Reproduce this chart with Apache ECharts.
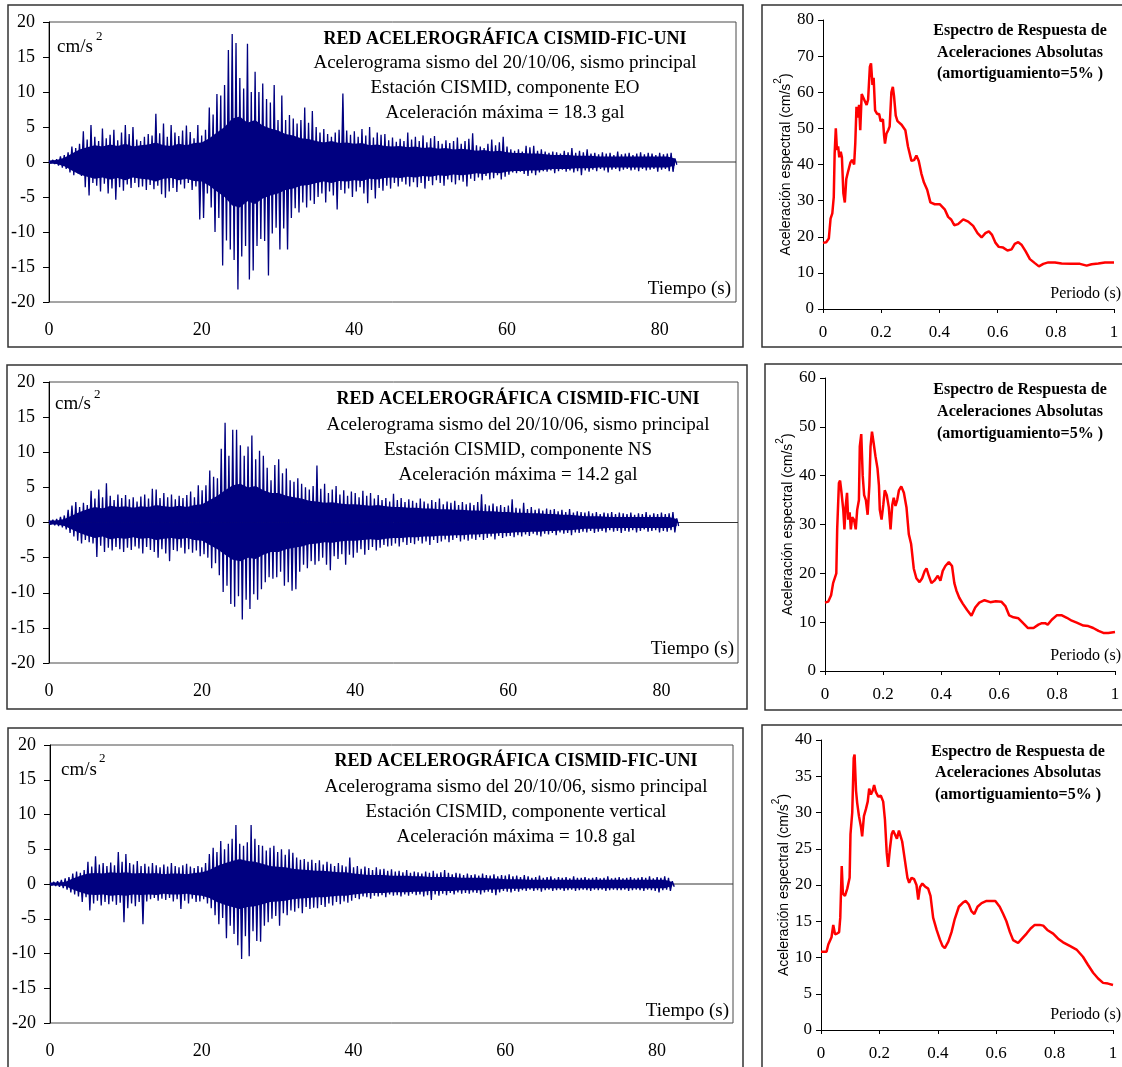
<!DOCTYPE html>
<html><head><meta charset="utf-8">
<script src="https://cdn.jsdelivr.net/npm/echarts/dist/echarts.min.js"></script>
<style>html,body{margin:0;padding:0;background:#fff}#c{width:1122px;height:1067px}</style>
</head><body><div id="c"></div>
<script>
// ---------------- DATA ----------------
// Accelerograms: peak (up) and trough (dn) read every 0.5 s from t = 0 to 82 s
const ACC_STEP = 0.5;
const EO_up = [0.2,0.3,0.4,0.8,1.0,1.4,2.2,2.0,2.6,4.4, 3.2,5.3,3.6,3.0,4.8,3.4,3.9,4.6,3.1,4.2,
 5.3,4.0,5.0,3.2,3.0,3.6,4.0,3.8,6.9,4.1, 5.5,3.6,5.3,4.2,3.7,4.5,5.2,4.3,3.4,5.3,
 3.8,4.6,7.8,6.8,9.7,9.5,11.0,16.0,18.3,17.0, 12.0,10.5,16.9,10.0,12.9,10.0,11.2,9.0,8.5,11.0,
 6.0,9.5,6.0,6.7,6.2,5.5,6.0,7.8,5.6,7.3, 5.0,4.2,4.7,4.0,3.6,4.2,4.6,9.8,4.5,3.9,
 4.4,3.6,4.7,3.8,5.0,3.5,4.2,3.9,4.0,3.1, 3.5,2.9,3.3,3.0,4.2,3.2,3.6,3.0,3.8,2.8,
 3.4,3.7,3.0,2.6,3.1,2.7,3.0,3.5,2.6,3.0, 3.3,4.1,2.4,2.2,2.0,2.6,3.2,2.4,2.8,3.6,
 2.2,1.8,1.6,1.8,1.5,2.3,2.1,2.3,1.6,1.8, 1.5,1.3,1.5,1.4,1.2,1.6,1.4,2.0,1.3,1.6,
 1.4,1.8,1.2,1.3,1.1,1.4,1.2,1.3,1.0,1.5, 1.1,1.2,1.3,1.0,1.2,1.4,1.1,1.3,1.2,1.0,
 1.3,1.1,1.2,1.3,0.5];
const EO_dn = [-0.2,-0.3,-0.5,-0.8,-1.0,-1.5,-1.9,-1.6,-2.0,-3.6, -4.8,-3.0,-3.4,-4.2,-3.1,-4.5,-3.8,-5.4,-3.6,-4.1,
 -3.2,-3.7,-3.0,-3.6,-3.5,-4.0,-3.3,-3.9,-3.4,-4.6, -5.1,-4.2,-3.7,-4.3,-3.2,-3.8,-3.0,-4.0,-3.5,-8.2,
 -8.0,-4.5,-6.5,-10.0,-8.0,-14.8,-11.2,-12.5,-14.0,-18.2, -13.5,-12.0,-16.8,-15.5,-12.0,-11.0,-11.3,-16.2,-10.2,-9.4,
 -12.5,-9.5,-12.5,-8.0,-6.6,-7.2,-5.8,-6.5,-5.5,-6.0, -5.0,-4.5,-5.8,-4.2,-4.8,-6.8,-4.0,-4.5,-3.8,-5.0,
 -4.2,-3.6,-4.5,-5.9,-4.0,-5.2,-3.7,-4.1,-3.4,-3.8, -3.0,-3.5,-2.8,-3.2,-3.5,-2.9,-3.6,-3.0,-3.8,-2.7,
 -3.3,-2.6,-3.0,-3.4,-2.5,-2.9,-3.2,-2.6,-2.8,-3.5, -2.4,-2.7,-2.2,-2.6,-2.0,-2.5,-2.3,-1.9,-2.5,-2.1,
 -1.8,-1.5,-1.6,-1.4,-1.7,-2.0,-1.6,-1.9,-1.5,-1.3, -1.4,-1.2,-1.6,-1.3,-1.1,-1.4,-1.2,-1.5,-1.3,-1.9,
 -1.2,-1.4,-1.1,-1.3,-1.0,-1.2,-1.5,-1.1,-1.0,-1.3, -1.1,-1.0,-1.2,-1.1,-1.3,-1.0,-1.2,-1.1,-1.0,-1.4,
 -1.1,-1.0,-1.3,-1.4,-0.4];
const NS_up = [0.3,0.4,0.5,0.8,1.0,1.8,2.4,2.9,2.2,2.8, 2.5,4.5,3.4,4.7,3.6,5.6,3.8,3.2,4.0,3.5,
 3.9,3.3,3.6,3.0,3.7,4.0,3.4,4.8,4.7,3.5, 4.2,3.6,4.0,3.3,3.8,3.5,3.9,4.4,3.6,5.3,
 4.6,5.3,7.4,6.5,6.3,10.5,14.2,9.5,13.2,13.2, 11.0,9.5,10.8,12.4,9.0,10.2,9.5,7.8,6.0,8.2,
 9.0,7.0,7.7,6.0,5.8,6.3,5.5,5.0,4.7,5.2, 8.1,4.8,5.5,4.2,4.7,5.2,4.0,4.6,3.8,4.4,
 4.2,3.6,4.5,3.8,4.2,3.4,3.9,3.2,3.5,3.0, 4.1,3.2,3.5,2.9,3.3,3.1,2.8,3.4,3.0,2.7,
 3.2,2.9,3.4,2.6,3.0,2.8,3.1,2.5,2.9,2.6, 2.8,2.5,2.9,4.0,2.6,2.4,2.7,2.3,2.5,2.2,
 2.4,3.3,2.1,2.0,2.8,1.9,2.2,1.8,2.0,1.7, 2.0,1.8,1.9,1.6,1.8,1.5,1.9,1.4,1.6,1.5,
 1.4,1.6,1.3,1.5,1.2,1.4,1.3,1.5,1.2,1.4, 1.3,1.2,1.4,1.1,1.3,1.2,1.5,1.1,1.3,1.2,
 1.4,1.2,1.3,1.5,0.6];
const NS_dn = [-0.3,-0.4,-0.5,-0.7,-1.0,-1.5,-2.0,-2.6,-3.0,-2.5, -2.8,-3.0,-4.9,-3.3,-4.2,-3.6,-4.0,-3.5,-3.8,-4.2,
 -3.6,-3.9,-3.4,-3.7,-4.4,-3.5,-3.9,-4.2,-5.0,-3.8, -4.4,-5.5,-3.9,-4.1,-3.6,-4.4,-3.8,-4.3,-4.0,-4.8,
 -4.5,-5.0,-6.5,-5.8,-7.5,-9.9,-9.0,-11.6,-12.0,-10.5, -13.8,-11.0,-12.3,-10.2,-11.0,-9.5,-8.5,-7.8,-8.0,-7.8,
 -7.0,-9.0,-8.5,-9.7,-9.5,-7.0,-6.0,-6.5,-5.5,-6.0, -5.5,-5.0,-6.0,-6.8,-4.8,-5.2,-4.5,-6.0,-4.6,-5.0,
 -4.3,-3.8,-4.6,-3.9,-3.5,-4.0,-3.6,-3.2,-3.4,-3.3, -3.0,-3.4,-2.8,-3.2,-2.9,-3.1,-2.6,-3.0,-2.7,-3.2,
 -2.5,-2.9,-2.7,-2.4,-2.8,-2.5,-2.2,-2.7,-2.4,-2.6, -2.3,-2.5,-2.1,-2.5,-2.2,-2.0,-2.4,-1.9,-2.2,-2.0,
 -1.9,-2.1,-1.8,-2.0,-1.7,-1.9,-1.6,-1.8,-2.0,-1.6, -1.7,-1.5,-1.8,-1.4,-1.6,-1.5,-1.8,-1.4,-1.5,-1.3,
 -1.4,-1.2,-1.5,-1.3,-1.2,-1.4,-1.1,-1.3,-1.2,-1.5, -1.2,-1.3,-1.1,-1.4,-1.2,-1.0,-1.3,-1.2,-1.1,-1.4,
 -1.2,-1.3,-1.1,-1.4,-0.5];
const VT_up = [0.2,0.3,0.4,0.6,0.8,1.0,1.5,1.8,1.6,2.0, 3.2,2.5,4.0,2.8,3.0,2.6,3.1,2.7,4.6,3.2,
 4.3,3.0,2.8,3.3,2.6,2.9,2.5,3.0,2.7,2.4, 2.8,2.5,3.0,2.6,2.4,2.7,2.9,2.5,2.3,2.6,
 2.4,3.0,4.3,5.2,4.6,6.2,5.0,5.8,6.5,8.5, 5.8,5.5,6.0,8.5,6.5,5.6,5.5,4.8,5.2,5.5,
 4.6,5.0,4.2,5.0,4.5,3.8,3.5,3.6,3.2,3.5, 3.0,3.4,2.8,3.2,2.9,2.6,3.0,2.7,2.5,3.8,
 2.4,2.6,2.2,2.5,2.3,2.0,2.4,2.1,2.2,1.9, 2.1,1.8,1.9,1.7,2.0,1.6,1.8,1.7,1.5,1.8,
 1.6,1.9,1.5,1.7,2.0,1.6,1.4,1.6,1.5,1.3, 1.5,1.3,1.4,1.2,1.5,1.3,1.2,1.4,1.1,1.3,
 1.2,1.4,1.1,1.2,1.0,1.3,1.1,0.9,1.0,1.2, 0.9,1.0,1.1,0.8,1.0,0.9,1.0,0.8,1.1,0.9,
 0.9,1.0,0.8,0.9,1.0,0.8,0.9,1.1,0.8,0.9, 1.0,0.8,0.9,1.0,0.8,0.9,1.0,0.9,1.1,0.8,
 1.0,0.9,1.1,0.9,0.4];
const VT_dn = [-0.2,-0.3,-0.4,-0.6,-0.8,-1.2,-1.5,-1.8,-2.6,-1.9, -3.8,-2.8,-2.4,-3.1,-2.6,-2.9,-2.5,-3.0,-2.7,-5.5,
 -3.5,-2.8,-3.2,-2.6,-5.8,-2.5,-2.2,-2.0,-2.4,-2.1, -2.3,-2.0,-2.5,-2.2,-3.6,-2.4,-2.8,-2.1,-2.6,-2.5,
 -2.2,-2.8,-3.5,-4.5,-5.8,-4.9,-7.8,-6.0,-7.2,-8.8, -10.8,-7.5,-10.4,-6.8,-8.2,-8.3,-6.0,-5.5,-5.0,-4.6,
 -6.0,-4.2,-4.5,-3.8,-4.0,-3.5,-4.2,-3.3,-3.6,-3.4, -3.5,-3.0,-3.3,-2.8,-3.1,-2.6,-2.9,-2.5,-2.7,-2.4,
 -2.0,-2.2,-1.8,-1.9,-2.1,-1.7,-1.8,-1.6,-1.9,-1.5, -1.7,-1.6,-1.8,-1.5,-1.7,-1.4,-1.6,-1.5,-1.8,-1.6,
 -2.3,-1.5,-1.7,-1.4,-1.6,-1.3,-1.5,-1.2,-1.4,-1.3, -1.4,-1.2,-1.3,-1.5,-1.2,-1.1,-1.3,-1.6,-1.2,-1.0,
 -1.1,-1.2,-1.0,-1.1,-0.9,-1.0,-0.8,-1.0,-0.9,-1.1, -0.9,-0.8,-1.0,-0.9,-0.8,-1.0,-0.9,-0.8,-1.0,-0.9,
 -0.8,-0.9,-1.0,-0.8,-0.9,-0.8,-1.0,-0.9,-0.8,-0.9, -0.9,-0.8,-1.0,-0.9,-0.8,-0.9,-1.0,-0.8,-0.9,-1.0,
 -1.2,-0.9,-0.8,-1.0,-0.4];
// Half-width of the solid (dense) part of each trace, read every 1 s from t = 0 to 82 s
const CORE_STEP = 1;
const EO_core = [0.2,0.3,0.6,1.2,1.8,2.1,2.4,2.2,2.5,2.3, 2.6,2.2,2.4,2.5,2.8,2.4,2.3,2.6,2.4,2.7,
 2.8,3.4,4.2,5.0,6.2,6.5,5.6,6.0,5.2,4.8, 4.5,4.0,3.8,3.4,3.3,3.0,2.8,3.0,2.7,2.8,
 2.6,2.7,2.4,2.5,2.3,2.2,2.3,2.1,2.2,2.0, 2.1,1.9,2.0,1.8,1.9,1.8,1.6,1.7,1.5,1.6,
 1.4,1.3,1.3,1.2,1.2,1.1,1.0,1.0,1.0,0.9, 0.9,0.9,0.8,0.8,0.8,0.8,0.8,0.8,0.8,0.8, 0.8,0.8,0.5];
const NS_core = [0.3,0.3,0.5,1.0,1.5,1.9,2.2,2.0,2.4,2.2, 2.3,2.1,2.3,2.2,2.5,2.3,2.2,2.4,2.2,2.5,
 2.6,3.2,3.8,4.6,5.3,5.5,5.0,5.2,4.6,4.2, 4.2,3.8,3.6,3.4,3.1,3.0,2.8,2.9,2.7,2.6,
 2.6,2.5,2.4,2.5,2.3,2.2,2.2,2.1,2.1,2.0, 2.0,1.9,1.9,1.8,1.8,1.7,1.7,1.6,1.6,1.5,
 1.5,1.4,1.4,1.3,1.3,1.2,1.2,1.1,1.1,1.0, 0.9,0.9,0.9,0.8,0.8,0.8,0.8,0.8,0.8,0.8, 0.8,0.8,0.5];
const VT_core = [0.2,0.2,0.3,0.8,1.2,1.5,1.6,1.5,1.7,1.6, 1.7,1.5,1.6,1.5,1.6,1.4,1.5,1.5,1.4,1.6,
 1.7,2.0,2.6,3.0,3.3,3.6,3.3,3.2,2.9,2.6, 2.5,2.4,2.2,2.1,2.0,1.9,1.9,1.8,1.7,1.7,
 1.5,1.4,1.3,1.3,1.3,1.2,1.2,1.2,1.1,1.1, 1.0,1.0,1.0,1.0,0.9,0.9,0.9,0.9,0.8,0.8,
 0.7,0.7,0.7,0.6,0.6,0.6,0.6,0.6,0.6,0.6, 0.6,0.6,0.6,0.6,0.6,0.6,0.6,0.6,0.6,0.6, 0.6,0.6,0.3];

// Response spectra: [period (s), spectral acceleration (cm/s2)]
const EO_spectrum = [[0,18.3],[0.011,18.5],[0.02,19.5],[0.026,25],[0.032,26.5],[0.037,31],[0.04,43],[0.044,50],[0.048,44],[0.052,45],[0.056,42],[0.061,43.5],[0.065,42],[0.07,32],[0.075,29.5],[0.08,36],[0.086,38],[0.094,40.5],[0.1,41.3],[0.107,40],[0.111,46],[0.115,56],[0.119,53],[0.124,56.5],[0.128,49.5],[0.133,59.5],[0.139,60],[0.144,57.5],[0.15,56.5],[0.155,58],[0.161,67],[0.165,68],[0.17,62],[0.174,64],[0.179,55],[0.186,54],[0.193,54],[0.198,52],[0.206,52.5],[0.21,48],[0.213,45.8],[0.218,48.5],[0.224,49.5],[0.229,50.5],[0.235,60],[0.24,61.5],[0.244,59],[0.25,53.5],[0.256,52],[0.27,51],[0.283,49.5],[0.292,45],[0.304,41],[0.313,41.2],[0.321,42.5],[0.329,41],[0.338,37.5],[0.347,35],[0.358,33],[0.369,29.5],[0.384,29],[0.401,29],[0.419,27.5],[0.43,25.5],[0.441,24.7],[0.451,23.2],[0.464,23.5],[0.482,24.8],[0.499,24.2],[0.516,23],[0.531,21],[0.545,19.8],[0.558,21],[0.57,21.5],[0.581,20.5],[0.593,18.3],[0.604,17.2],[0.619,17],[0.634,16.2],[0.648,16.5],[0.659,18],[0.671,18.5],[0.682,17.8],[0.696,16],[0.711,13.8],[0.728,12.7],[0.742,11.8],[0.757,12.5],[0.774,12.9],[0.797,12.9],[0.82,12.6],[0.854,12.5],[0.883,12.5],[0.906,12.0],[0.923,12.4],[0.946,12.6],[0.969,12.9],[1.0,12.9]];
const NS_spectrum = [[0,14],[0.011,14.2],[0.021,15.5],[0.028,18],[0.034,18.2],[0.039,20],[0.042,29],[0.048,38.5],[0.052,39],[0.057,36.5],[0.063,33],[0.067,29],[0.071,33.5],[0.076,36.5],[0.08,31],[0.085,32.5],[0.089,29],[0.094,31.5],[0.1,31],[0.106,29],[0.111,33],[0.117,35],[0.12,46],[0.125,48.5],[0.13,40],[0.135,36],[0.141,35],[0.147,32],[0.153,38],[0.157,46],[0.162,49],[0.167,47],[0.174,44],[0.181,41.5],[0.186,38],[0.189,33],[0.195,31],[0.201,34],[0.206,37],[0.213,36],[0.22,33.5],[0.226,29],[0.232,34],[0.237,35.5],[0.243,33.8],[0.249,35],[0.255,37],[0.263,37.8],[0.272,36.5],[0.281,33.5],[0.289,28],[0.297,26],[0.306,21],[0.315,19],[0.326,18.2],[0.335,19],[0.344,20.5],[0.35,21],[0.358,19.5],[0.367,18],[0.377,18.5],[0.389,19.5],[0.398,18.5],[0.406,20.5],[0.415,21.5],[0.427,22.3],[0.438,21.5],[0.446,18],[0.453,16.5],[0.463,15],[0.475,13.8],[0.49,12.5],[0.505,11.3],[0.518,13],[0.532,14],[0.55,14.5],[0.57,14.1],[0.589,14.3],[0.608,14.2],[0.622,13.3],[0.635,11.4],[0.65,11],[0.667,10.8],[0.685,9.7],[0.7,8.8],[0.719,8.8],[0.736,9.5],[0.748,9.8],[0.759,9.8],[0.768,9.5],[0.782,10.5],[0.799,11.4],[0.817,11.4],[0.834,10.9],[0.851,10.3],[0.868,9.9],[0.891,9.3],[0.908,9.2],[0.925,8.8],[0.943,8.2],[0.96,7.8],[0.977,7.8],[1,8.0]];
const VT_spectrum = [[0,10.8],[0.019,10.8],[0.025,11.8],[0.031,11.8],[0.036,12.8],[0.042,14.5],[0.048,13.2],[0.055,13.3],[0.062,13.5],[0.066,15.5],[0.071,22.6],[0.075,18.8],[0.082,18.5],[0.09,19.5],[0.098,21],[0.101,27],[0.107,30],[0.112,37.5],[0.115,38],[0.12,33],[0.124,31.3],[0.13,29.5],[0.137,28],[0.141,26.7],[0.147,29.5],[0.154,30.5],[0.16,31.5],[0.165,33.3],[0.171,32.5],[0.177,33],[0.182,33.8],[0.188,32.8],[0.196,32.2],[0.205,32.3],[0.213,31.5],[0.219,29],[0.225,24.5],[0.23,22.5],[0.236,25],[0.242,27],[0.247,27.5],[0.253,27],[0.26,26.4],[0.267,27.5],[0.273,27.7],[0.278,26],[0.287,23.5],[0.296,21],[0.302,20.3],[0.31,21],[0.319,20.8],[0.327,20],[0.333,18],[0.339,19.7],[0.347,20.2],[0.356,19.8],[0.367,19.5],[0.375,18.5],[0.384,15.5],[0.396,13.8],[0.407,12.5],[0.416,11.6],[0.424,11.3],[0.436,12.2],[0.447,13.5],[0.458,15.3],[0.472,17],[0.487,17.6],[0.496,17.8],[0.506,17.3],[0.515,16.4],[0.525,16.0],[0.536,17],[0.55,17.5],[0.567,17.8],[0.584,17.8],[0.597,17.8],[0.612,17],[0.624,16],[0.635,15],[0.647,13.5],[0.658,12.4],[0.675,12.0],[0.686,12.5],[0.704,13.3],[0.718,14.0],[0.732,14.5],[0.749,14.5],[0.761,14.4],[0.775,13.8],[0.795,13.3],[0.812,12.6],[0.829,12.1],[0.852,11.6],[0.875,11.1],[0.897,10.1],[0.914,9.0],[0.932,7.9],[0.949,7.1],[0.966,6.5],[0.983,6.4],[1.0,6.2]];

// Text
const accTitle = 'RED ACELEROGRÁFICA CISMID-FIC-UNI';
const accSub = 'Acelerograma sismo del 20/10/06, sismo principal';
const accStation = ['Estación CISMID, componente EO','Estación CISMID, componente NS','Estación CISMID, componente vertical'];
const accMax = ['Aceleración máxima = 18.3 gal','Aceleración máxima = 14.2 gal','Aceleración máxima = 10.8 gal'];
const specTitle = ['Espectro de Respuesta de','Aceleraciones Absolutas','(amortiguamiento=5% )'];

// ---------------- CHART ----------------
const serif = '"Liberation Serif","Times New Roman",serif';
const sans = '"Liberation Sans",Arial,sans-serif';
const NAVY = '#000080';
function zig(up, dn){
  const out = [];
  for (let i = 0; i < up.length; i++){
    out.push([i*ACC_STEP, up[i]]);
    out.push([i*ACC_STEP + ACC_STEP/2, dn[i]]);
  }
  return out;
}
function band(core, sign){ return core.map((v, i) => [i*CORE_STEP, sign*v]); }
const accGrids = [
  {left:49, top:22, width:687, height:280},
  {left:49, top:382, width:689, height:281},
  {left:50, top:745, width:683, height:278}
];
const specGrids = [
  {left:823, top:20, width:291, height:289},
  {left:825, top:378, width:290, height:293},
  {left:821, top:740, width:292, height:290}
];
const specY = [{max:80, interval:10},{max:60, interval:10},{max:40, interval:5}];
const grid = [], xAxis = [], yAxis = [], series = [];
accGrids.forEach((g, i) => {
  grid.push(Object.assign({show:true, borderColor:'#4a4a4a', borderWidth:1, outerBoundsMode:'none'}, g));
  xAxis.push({gridIndex:i, type:'value', min:0, max:90, interval:20,
    axisLine:{show:false, onZero:false}, axisTick:{show:false}, splitLine:{show:false},
    axisLabel:{margin:19, fontFamily:serif, fontSize:18, color:'#000',
      formatter: v => (v % 20 === 0 && v <= 80) ? String(v) : ''}});
  yAxis.push({gridIndex:i, type:'value', min:-20, max:20, interval:5,
    axisLine:{show:true, onZero:false, lineStyle:{color:'#000', width:1}},
    axisTick:{show:true, length:6, lineStyle:{color:'#000'}}, splitLine:{show:false},
    axisLabel:{margin:14, fontFamily:serif, fontSize:18, color:'#000'}});
});
specGrids.forEach((g, j) => {
  const i = j + 3;
  grid.push(Object.assign({show:false, outerBoundsMode:'none'}, g));
  xAxis.push({gridIndex:i, type:'value', min:0, max:1, interval:0.2,
    axisLine:{show:true, onZero:false, lineStyle:{color:'#000', width:1}},
    axisTick:{show:true, length:4, lineStyle:{color:'#000'}}, splitLine:{show:false},
    axisLabel:{margin:15, fontFamily:serif, fontSize:17, color:'#000'}});
  yAxis.push({gridIndex:i, type:'value', min:0, max:specY[j].max, interval:specY[j].interval,
    axisLine:{show:true, onZero:false, lineStyle:{color:'#000', width:1}},
    axisTick:{show:true, length:5, lineStyle:{color:'#000'}}, splitLine:{show:false},
    axisLabel:{margin:9, fontFamily:serif, fontSize:17, color:'#000'},
    name:'{a|Aceleración espectral (cm/s}{b|2}{a|)}', nameLocation:'middle', nameRotate:90, nameGap:29,
    nameTextStyle:{fontFamily:sans, fontSize:14, color:'#000',
      rich:{a:{fontFamily:sans, fontSize:14, lineHeight:20, verticalAlign:'bottom'},
            b:{fontFamily:sans, fontSize:10, lineHeight:20, verticalAlign:'top'}}}});
});
const accData = [[EO_up, EO_dn, EO_core],[NS_up, NS_dn, NS_core],[VT_up, VT_dn, VT_core]];
accData.forEach((d, i) => {
  series.push({type:'line', xAxisIndex:i, yAxisIndex:i, data:[[0,0],[90,0]], symbol:'none',
    lineStyle:{color:'#333', width:1}, z:1, silent:true});
  [1, -1].forEach(sg => series.push({type:'line', xAxisIndex:i, yAxisIndex:i, data:band(d[2], sg),
    symbol:'none', showSymbol:false, lineStyle:{width:0, opacity:0},
    areaStyle:{color:NAVY, opacity:1, origin:0}, z:2, silent:true}));
  series.push({type:'line', xAxisIndex:i, yAxisIndex:i, data:zig(d[0], d[1]), symbol:'none',
    showSymbol:false, sampling:null, lineStyle:{color:NAVY, width:1.3},
    areaStyle:{color:NAVY, opacity:1, origin:0}, z:3, silent:true});
});
[EO_spectrum, NS_spectrum, VT_spectrum].forEach((d, j) => {
  series.push({type:'line', xAxisIndex:j+3, yAxisIndex:j+3, data:d, symbol:'none', showSymbol:false,
    lineStyle:{color:'#ff0000', width:2.5}, z:3, silent:true});
});

// annotations
const graphic = [];
function txt(text, x, y, font, align){
  graphic.push({type:'text', x:x, y:y, silent:true, z:10,
    style:{text:text, font:font, fill:'#000', textAlign:align||'center', textVerticalAlign:'middle'}});
}
function frame(x, y, w, h){
  graphic.push({type:'rect', silent:true, z:0, shape:{x:x, y:y, width:w, height:h},
    style:{fill:'none', stroke:'#333', lineWidth:1.5}});
}
frame(8, 5, 735, 342);
frame(7, 365, 740, 344);
frame(8, 728, 735, 345);
frame(762, 5, 365, 342);
frame(765, 364, 362, 346);
frame(762, 725, 365, 350);

const accText = [
  {cx:505, ys:[39,63,88,113], cm:[57,47], sup:[96,37], tx:731, ty:289},
  {cx:518, ys:[399,425,450,475], cm:[55,404], sup:[94,395], tx:734, ty:649},
  {cx:516, ys:[761,787,812,837], cm:[61,770], sup:[99,759], tx:729, ty:1011}
];
accText.forEach((a, i) => {
  txt(accTitle, a.cx, a.ys[0], 'bold 18px ' + serif);
  txt(accSub, a.cx, a.ys[1], '19px ' + serif);
  txt(accStation[i], a.cx, a.ys[2], '19px ' + serif);
  txt(accMax[i], a.cx, a.ys[3], '19px ' + serif);
  txt('cm/s', a.cm[0], a.cm[1], '19px ' + serif, 'left');
  txt('2', a.sup[0], a.sup[1], '13px ' + serif, 'left');
  txt('Tiempo (s)', a.tx, a.ty, '19px ' + serif, 'right');
});
const specText = [
  {cx:1020, ys:[31,53,74], py:294},
  {cx:1020, ys:[390,412,434], py:656},
  {cx:1018, ys:[752,773,795], py:1015}
];
specText.forEach(s => {
  specTitle.forEach((t, k) => txt(t, s.cx, s.ys[k], 'bold 16px ' + serif));
  txt('Periodo (s)', 1121, s.py, '16px ' + serif, 'right');
});

const chart = echarts.init(document.getElementById('c'), null, {renderer:'canvas'});
chart.setOption({animation:false, backgroundColor:'#fff', grid, xAxis, yAxis, series, graphic});
</script></body></html>
